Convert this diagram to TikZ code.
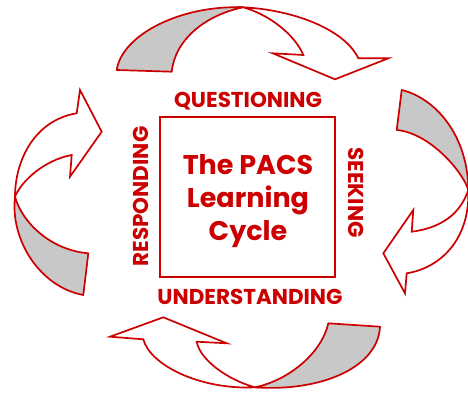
\documentclass[tikz,border=0pt]{standalone}
\usepackage{fontspec}
\setmainfont{Poppins}
\definecolor{pacsred}{RGB}{204,0,0}
\definecolor{ribbon}{RGB}{200,200,200}
\begin{document}
\begin{tikzpicture}[
  x=1pt, y=-1pt,
  lbl/.style={text=pacsred, font=\fontsize{21.5}{21.5}\selectfont\bfseries, inner sep=0pt, anchor=base},
  ttl/.style={text=pacsred, font=\fontsize{27}{33}\selectfont\bfseries, inner sep=0pt, align=center},
  back/.style={draw=pacsred, line width=1.7pt, fill=ribbon, line join=round},
  front/.style={draw=pacsred, line width=1.7pt, fill=white, line join=miter}
]
\useasboundingbox (0,0) rectangle (468,393);
% centre box
\node[draw=pacsred, line width=2.6pt, minimum width=175pt, minimum height=160pt, inner sep=0pt] (cycle) at (247.5,197) {};
\node[ttl] (title) at (248,201) {The PACS\\Learning\\Cycle};
% the four stages
\node[lbl] (quest) at (248,108) {QUESTIONING};
\node[lbl, rotate=-90] (seek) at (348,192.5) {SEEKING};
\node[lbl] (under) at (250,304) {UNDERSTANDING};
\node[lbl, rotate=90] (resp) at (148,196.5) {RESPONDING};
% top ribbon
\draw[back] (116.7,70) .. controls (122,35) and (180,5) .. (243.3,7.3)
  .. controls (205,15) and (175,40) .. (171.7,71.7) -- cycle;
\draw[front] (243.3,7.3) .. controls (295,10) and (345,30) .. (358.3,58.3)
  -- (388.3,58.3) -- (335,79.3) -- (272.7,53.3) -- (303.3,55)
  .. controls (295,35) and (270,15) .. (243.3,7.3) -- cycle;
% right ribbon
\draw[back] (401.7,90) .. controls (435,98) and (468,135) .. (468.3,190)
  .. controls (463,172) and (430,133) .. (396.7,130) -- cycle;
\draw[front] (468.3,190) .. controls (460,215) and (440,228) .. (411.7,231.7)
  -- (413.3,210) -- (383.3,253.3) -- (405,293.3) -- (406.7,273.3)
  .. controls (440,268) and (470,240) .. (468.3,190) -- cycle;
% bottom ribbon
\draw[back] (328.3,323.3) -- (380,326.7) .. controls (378,368) and (320,392) .. (255,387.3)
  .. controls (290,380) and (322,352) .. (328.3,323.3) -- cycle;
\draw[front] (255,387.3) .. controls (228,380) and (200,360) .. (196.7,341.7)
  -- (226.7,343.3) -- (163.3,317.3) -- (110,336.7) -- (143.3,339.3)
  .. controls (150,365) and (200,390) .. (255,387.3) -- cycle;
% left ribbon
\draw[back] (15,196.7) .. controls (10,240) and (40,287) .. (83.3,295)
  -- (88.3,253.3) .. controls (50,250) and (22,222) .. (15,196.7) -- cycle;
\draw[front] (15,196.7) .. controls (15,160) and (35,120) .. (76.7,113.3)
  -- (80,90) -- (101.7,131.7) -- (70,176.7) -- (71.7,155)
  .. controls (45,160) and (22,180) .. (15,196.7) -- cycle;
\end{tikzpicture}
\end{document}
